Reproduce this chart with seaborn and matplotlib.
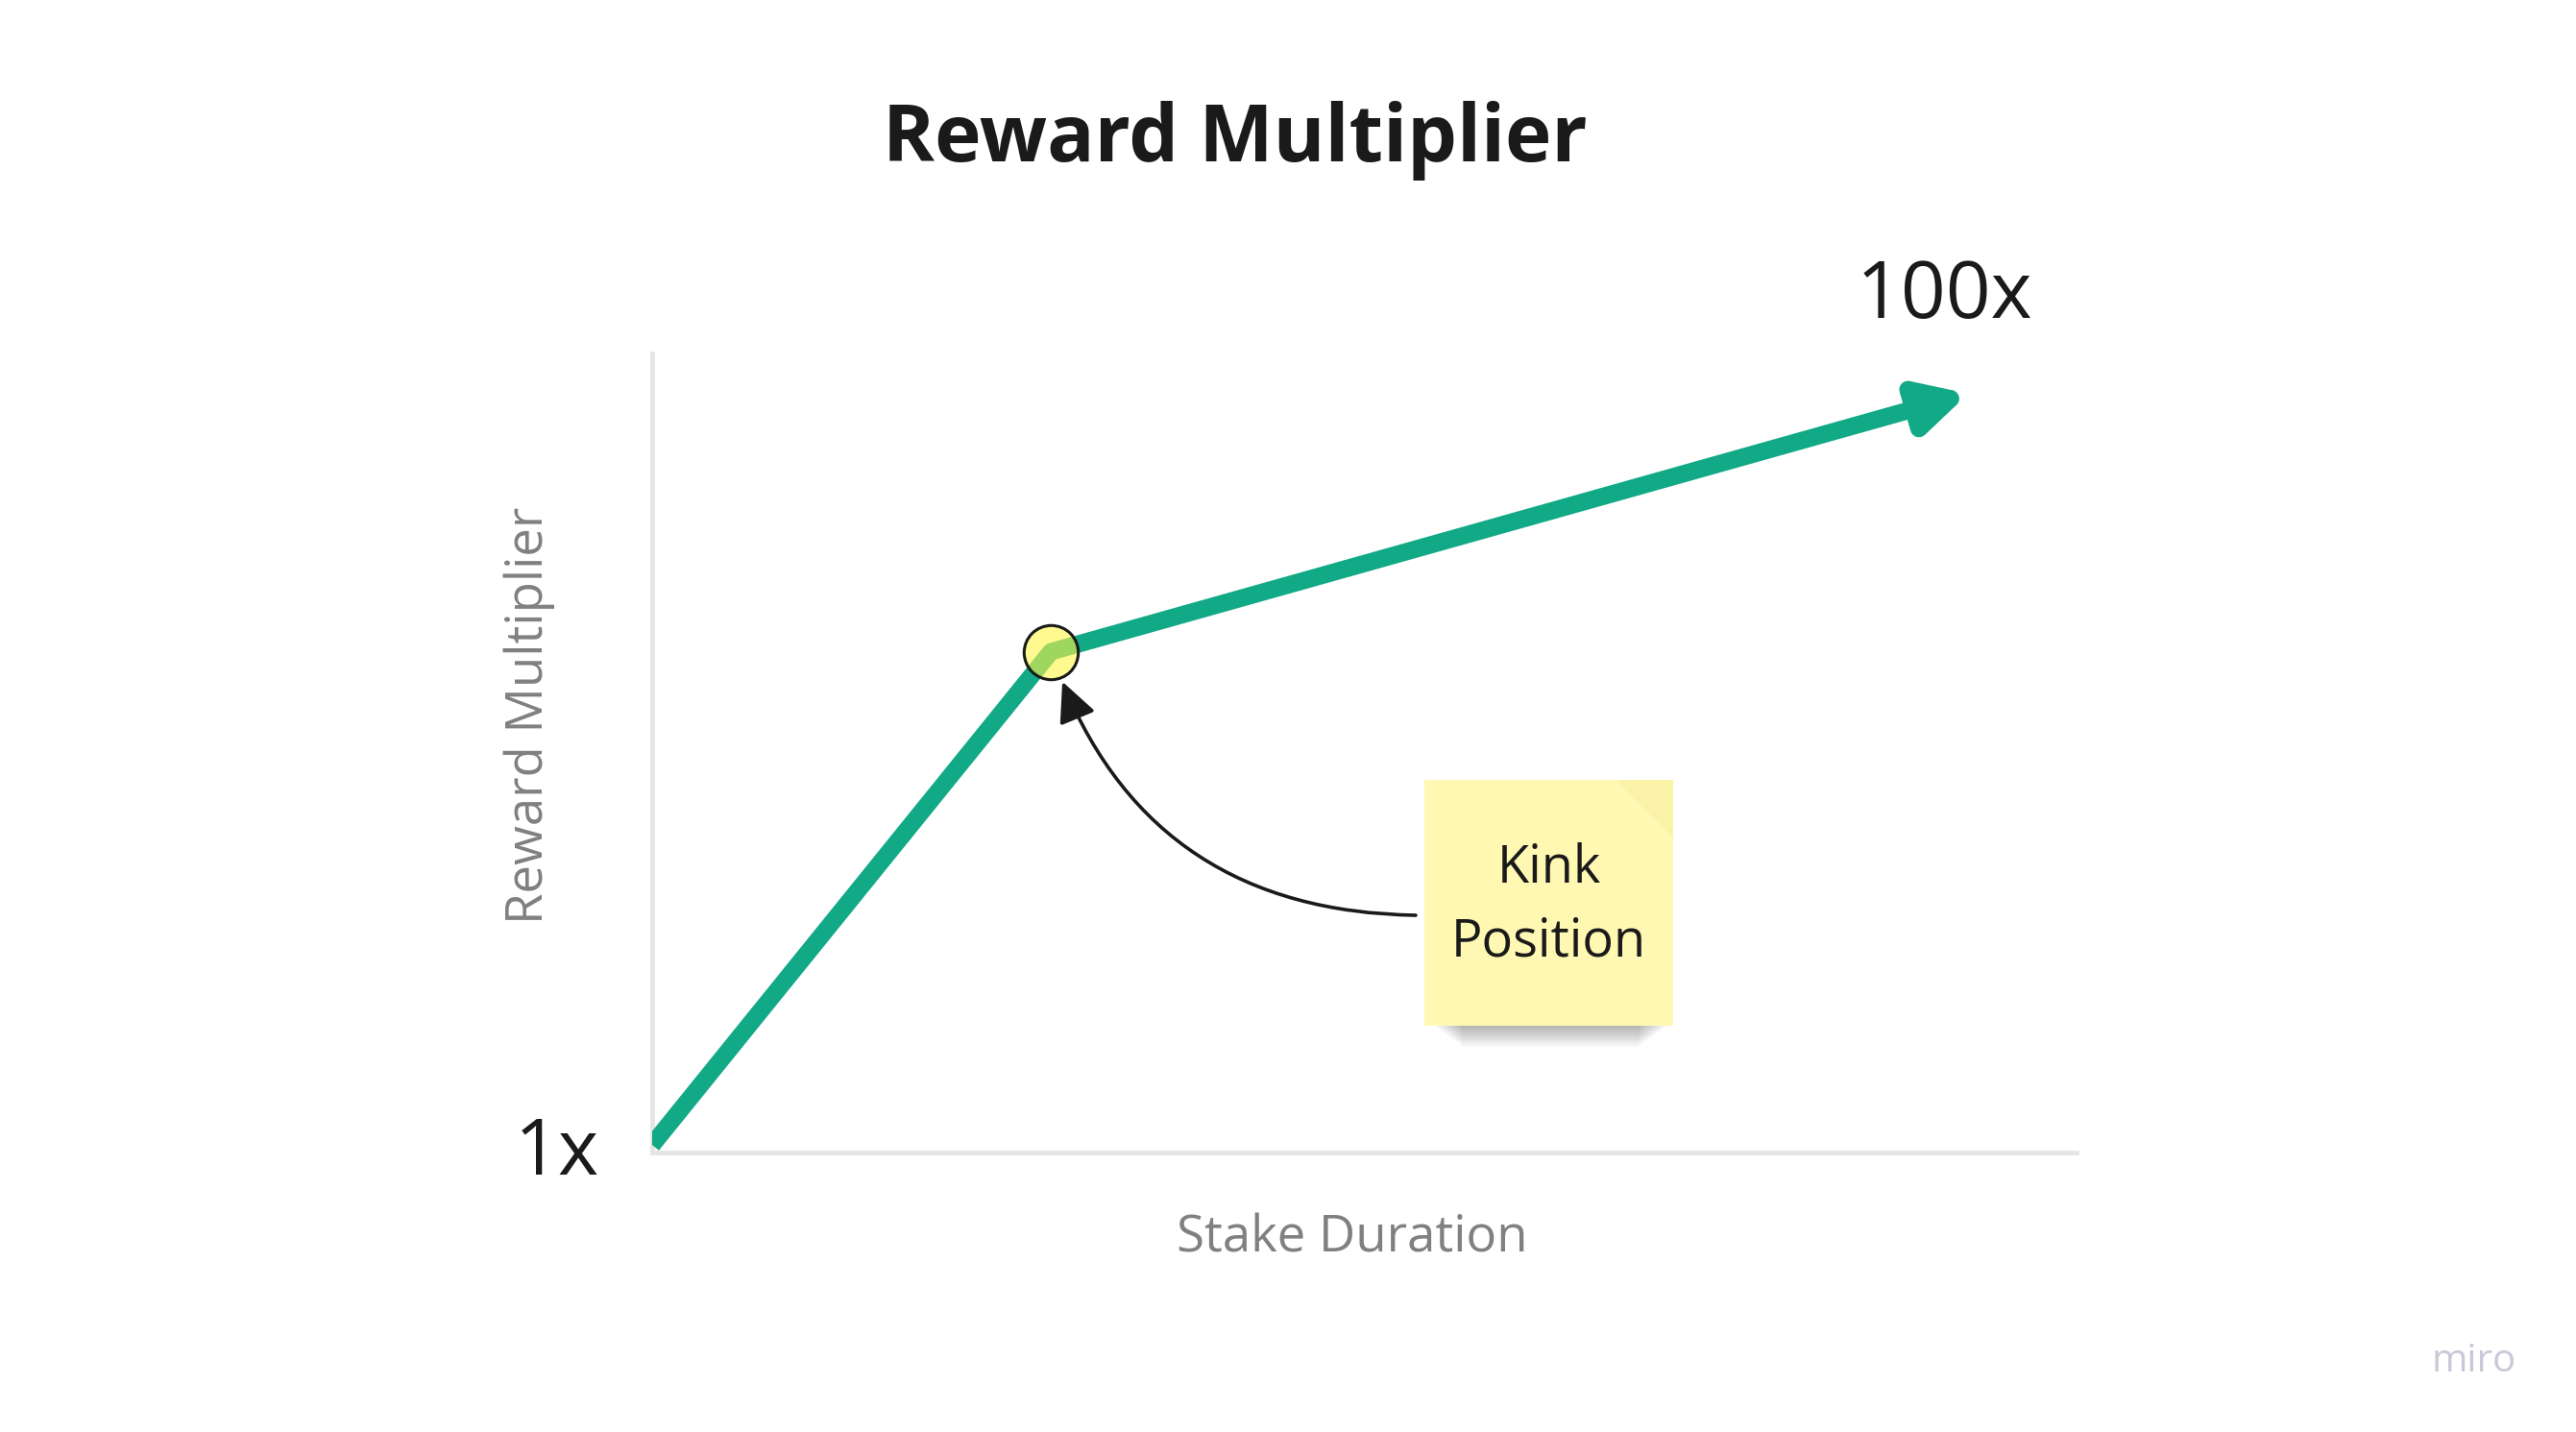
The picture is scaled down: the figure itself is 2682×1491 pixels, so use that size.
import seaborn as sns
import matplotlib.pyplot as plt
import matplotlib.patches as mpatches
import pandas as pd

# data
duration = [0, 28, 92.4]        # stake duration (arbitrary units)
multiplier = [1, 66, 100]       # reward multiplier
tick_vals = [1]
tick_labels = ["1x"]
top_label = "100x"
note_text = "Kink\nPosition"

W, H = 2682, 1491
GREEN = "#12a987"

sns.set_theme(style="white")
plt.rcParams["font.family"] = ["Open Sans", "DejaVu Sans"]

fig = plt.figure(figsize=(W / 100, H / 100), dpi=100)
fig.patch.set_facecolor("white")
ax = fig.add_axes([679 / W, 1 - 1200 / H, (2162 - 679) / W, (1200 - 368) / H])
ax.set_facecolor("white")

df = pd.DataFrame({"duration": duration, "multiplier": multiplier})

# rising segment up to the kink
sns.lineplot(data=df.iloc[:2], x="duration", y="multiplier", ax=ax,
             color=GREEN, lw=13, solid_capstyle="butt", zorder=3)
# flatter segment with arrow head
ax.annotate("", xy=(duration[2], multiplier[2]), xytext=(duration[1], multiplier[1]),
            arrowprops=dict(arrowstyle="-|>,head_length=0.72,head_width=0.38",
                            mutation_scale=40, color=GREEN, lw=13,
                            shrinkA=0, shrinkB=0, joinstyle="round"),
            zorder=3)

# kink marker
ax.scatter([duration[1]], [multiplier[1]], s=1650, marker="o",
           facecolor=(1.0, 0.96, 0.28, 0.6), edgecolor="#1a1a1a",
           linewidth=2.2, zorder=5)

ax.set_xlim(0, 100)
ax.set_ylim(0, 105.3)
ax.set_xticks([])
ax.set_yticks(tick_vals, labels=tick_labels)
ax.tick_params(axis="y", length=0, pad=40, labelsize=58, labelcolor="#1a1a1a")

for side in ["top", "right"]:
    ax.spines[side].set_visible(False)
for side in ["left", "bottom"]:
    ax.spines[side].set_color("#e5e5e5")
    ax.spines[side].set_linewidth(3.5)

ax.set_ylabel("Reward Multiplier", fontsize=38, color="#808080", va="center")
ax.yaxis.set_label_coords(-0.0863, 0.547)
ax.set_xlabel("Stake Duration", fontsize=38, color="#808080", va="center")
ax.xaxis.set_label_coords(0.4916, -0.108)

# top value label
ax.annotate(top_label, xy=(duration[2], multiplier[2]), xytext=(-18, 72),
            textcoords="offset points", ha="center", va="center",
            fontsize=59, color="#1a1a1a")

# title
fig.text(1286 / W, 1 - 146 / H, "Reward Multiplier", ha="center", va="center",
         fontsize=59, fontweight="bold", color="#1a1a1a")

# sticky note with soft shadow
nx0, ny0, nx1, ny1 = 1483, 812, 1742, 1068
for i in range(10):
    off = 2 + i * 2.2
    fig.patches.append(mpatches.Rectangle(
        ((nx0 + 12 + i * 3) / W, 1 - (ny1 + off) / H),
        (nx1 - nx0 - 20 - i * 6) / W, 60 / H,
        transform=fig.transFigure, facecolor="black", alpha=0.03,
        edgecolor="none", zorder=1))
fig.patches.append(mpatches.Rectangle(
    (nx0 / W, 1 - ny1 / H), (nx1 - nx0) / W, (ny1 - ny0) / H,
    transform=fig.transFigure, facecolor="#fff8b3", edgecolor="none", zorder=2))
fig.patches.append(mpatches.Polygon(
    [((nx1 - 60) / W, 1 - ny0 / H), (nx1 / W, 1 - ny0 / H), (nx1 / W, 1 - (ny0 + 60) / H)],
    closed=True, transform=fig.transFigure, facecolor="#f7ef9f", alpha=0.5,
    edgecolor="none", zorder=2))
fig.text((nx0 + nx1) / 2 / W, 1 - 943 / H, note_text, ha="center", va="center",
         fontsize=39, color="#1a1a1a", linespacing=1.5, zorder=3)

# curved pointer from note to kink
ax.annotate("", xy=(duration[1], multiplier[1]), xycoords="data",
            xytext=(1474 / W, 1 - 953 / H), textcoords="figure fraction",
            arrowprops=dict(arrowstyle="-|>,head_length=0.8,head_width=0.38",
                            mutation_scale=32, connectionstyle="arc3,rad=-0.35",
                            color="#1a1a1a", lw=2.6, shrinkA=0, shrinkB=24),
            zorder=4)

# watermark
fig.text(2576 / W, 1 - 1418 / H, "miro", ha="center", va="center",
         fontsize=29, color="#c8c8d8")

fig.savefig("out.png", dpi=100, facecolor="white")
